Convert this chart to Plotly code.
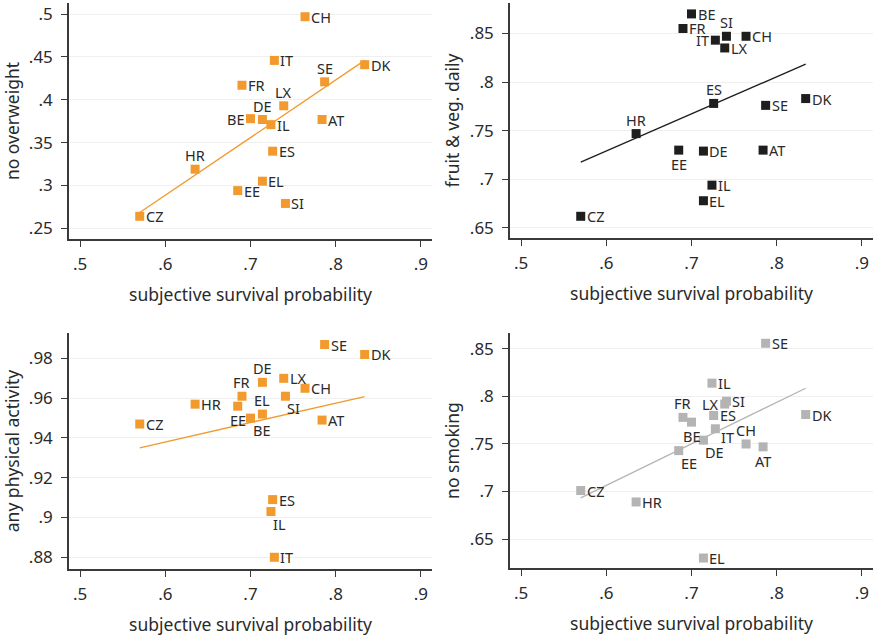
import numpy as np
import plotly.graph_objects as go

countries = ["CZ", "HR", "EE", "FR", "BE", "DE", "EL", "IL", "ES", "IT", "LX", "SI", "CH", "AT", "SE", "DK"]
survival = [0.570, 0.635, 0.685, 0.690, 0.700, 0.714, 0.714, 0.724, 0.726, 0.728, 0.739, 0.741, 0.764, 0.784, 0.787, 0.834]

no_overweight = [0.264, 0.319, 0.294, 0.417, 0.378, 0.377, 0.305, 0.371, 0.340, 0.446, 0.393, 0.279, 0.497, 0.377, 0.421, 0.441]
fruit_veg = [0.662, 0.747, 0.730, 0.855, 0.870, 0.729, 0.678, 0.694, 0.778, 0.843, 0.835, 0.847, 0.847, 0.730, 0.776, 0.783]
physical = [0.947, 0.957, 0.956, 0.961, 0.950, 0.968, 0.952, 0.903, 0.909, 0.880, 0.970, 0.961, 0.965, 0.949, 0.987, 0.982]
no_smoking = [0.701, 0.689, 0.743, 0.778, 0.773, 0.754, 0.630, 0.814, 0.780, 0.766, 0.792, 0.795, 0.750, 0.747, 0.856, 0.781]

x_ticks = [0.5, 0.6, 0.7, 0.8, 0.9]
x_ticktext = [".5", ".6", ".7", ".8", ".9"]
y1_ticks = [0.25, 0.3, 0.35, 0.4, 0.45, 0.5]
y1_text = [".25", ".3", ".35", ".4", ".45", ".5"]
y2_ticks = [0.65, 0.7, 0.75, 0.8, 0.85]
y2_text = [".65", ".7", ".75", ".8", ".85"]
y3_ticks = [0.88, 0.9, 0.92, 0.94, 0.96, 0.98]
y3_text = [".88", ".9", ".92", ".94", ".96", ".98"]
y4_ticks = [0.65, 0.7, 0.75, 0.8, 0.85]
y4_text = [".65", ".7", ".75", ".8", ".85"]

ORANGE = "#F29A2E"
BLACK = "#1E1E1E"
GREY = "#B4B4B4"
FONT = "Noto Sans"
TXT = "#2a2a2a"

# label placements (styling): R=right, L=left, T=top, B=bottom, BR=bottom-right, BL=bottom-left, TR=top-right, RD=right slightly down
pos1 = ["R", "T", "R", "R", "L", "T", "R", "R", "R", "R", "T", "R", "R", "R", "T", "R"]
pos2 = ["R", "T", "B", "R", "R", "R", "R", "R", "T", "L", "R", "T", "R", "R", "R", "R"]
pos3 = ["R", "R", "B", "T", "BR", "T", "T", "BR", "R", "R", "R", "BR", "R", "R", "R", "R"]
pos4 = ["R", "R", "BR", "T", "B", "BR", "R", "R", "R", "RD", "L", "R", "T", "B", "R", "R"]

PLACE = {
    "R": dict(xanchor="left", yanchor="middle", xshift=5, yshift=0),
    "RD": dict(xanchor="left", yanchor="middle", xshift=5, yshift=-8),
    "L": dict(xanchor="right", yanchor="middle", xshift=-5, yshift=0),
    "T": dict(xanchor="center", yanchor="bottom", xshift=0, yshift=3),
    "B": dict(xanchor="center", yanchor="top", xshift=0, yshift=-3),
    "BR": dict(xanchor="left", yanchor="top", xshift=1, yshift=-1),
    "BL": dict(xanchor="right", yanchor="top", xshift=-1, yshift=-1),
    "TR": dict(xanchor="left", yanchor="bottom", xshift=1, yshift=1),
}

panels = [
    (no_overweight, ORANGE, pos1, "x", "y", "no overweight", y1_ticks, y1_text, [0.2375, 0.513]),
    (fruit_veg, BLACK, pos2, "x2", "y2", "fruit & veg. daily", y2_ticks, y2_text, [0.6397, 0.8812]),
    (physical, ORANGE, pos3, "x3", "y3", "any physical activity", y3_ticks, y3_text, [0.8741, 0.9928]),
    (no_smoking, GREY, pos4, "x4", "y4", "no smoking", y4_ticks, y4_text, [0.6195, 0.8668]),
]

W, H = 874, 637
xdoms = [[69 / W, 432 / W], [510 / W, 873 / W], [69 / W, 432 / W], [510 / W, 873 / W]]
ydoms = [[1 - 239 / H, 1 - 3 / H], [1 - 238 / H, 1 - 3 / H], [1 - 569 / H, 1 - 333 / H], [1 - 568 / H, 1 - 333 / H]]

fig = go.Figure()
xs = np.array(survival)
annotations = []
for i, (vals, color, pos, xa, ya, title, yt, ytt, yr) in enumerate(panels):
    ys = np.array(vals)
    b, a = np.polyfit(xs, ys, 1)
    fx = np.array([xs.min(), xs.max()])
    fig.add_trace(go.Scatter(x=fx, y=a + b * fx, mode="lines", line=dict(color=color, width=1.3),
                             xaxis=xa, yaxis=ya, showlegend=False, hoverinfo="skip"))
    fig.add_trace(go.Scatter(x=survival, y=vals, mode="markers", text=countries,
                             marker=dict(symbol="square", size=9, color=color),
                             xaxis=xa, yaxis=ya, showlegend=False, cliponaxis=False))
    for c, xv, yv, p in zip(countries, survival, vals, pos):
        annotations.append(dict(x=xv, y=yv, xref=xa, yref=ya, text=c, showarrow=False, borderpad=0,
                                font=dict(family=FONT, size=14.5, color=TXT), **PLACE[p]))
    sfx = "" if i == 0 else str(i + 1)
    axis_common = dict(showline=True, linecolor="#3a3a3a", linewidth=1.5, ticks="outside", ticklen=6,
                       tickwidth=1.3, tickcolor="#3a3a3a", zeroline=False, mirror=False, automargin=False,
                       ticklabeloverflow="allow",
                       tickfont=dict(family=FONT, size=17, color=TXT))
    fig.layout["xaxis" + sfx] = dict(domain=xdoms[i], range=[0.487, 0.913], tickvals=x_ticks, ticktext=x_ticktext,
                                     showgrid=False, anchor="y" + sfx, ticklabelstandoff=3,
                                     title=dict(text="subjective survival probability", standoff=15,
                                                font=dict(family=FONT, size=17.5, color=TXT)),
                                     **axis_common)
    fig.layout["yaxis" + sfx] = dict(domain=ydoms[i], range=yr, tickvals=yt, ticktext=ytt,
                                     showgrid=True, gridcolor="#EFEFEF", gridwidth=1, anchor="x" + sfx,
                                     ticklabelstandoff=5,
                                     title=dict(text=title, standoff=6,
                                                font=dict(family=FONT, size=17.5, color=TXT)),
                                     **axis_common)

fig.update_layout(width=W, height=H, margin=dict(l=0, r=0, t=0, b=0), plot_bgcolor="white",
                  paper_bgcolor="white", font=dict(family=FONT), template="none", annotations=annotations)
fig.write_html("out.html", config={"displayModeBar": False},
               post_script="document.body.style.margin='0px';document.body.style.padding='0px';")
